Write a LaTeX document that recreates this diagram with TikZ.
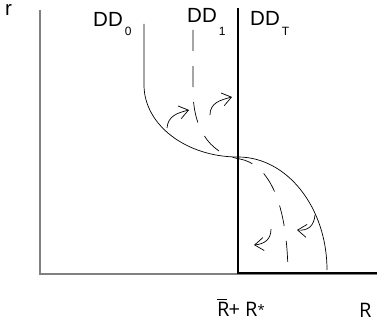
\documentclass[tikz,border=0pt]{standalone}
\usepackage{fontspec}
\setmainfont{Liberation Sans}
\newfontfamily\axisfont{Open Sans}
\usetikzlibrary{arrows.meta}

\begin{document}
\begin{tikzpicture}[x=1pt, y=-1pt, font=\fontsize{20.5}{22}\selectfont,
  axis/.style={draw=black!50, line width=1.4pt},
  curve/.style={line width=0.7pt},
  dcurve/.style={line width=0.7pt, dash pattern=on 21pt off 15pt},
  movearrow/.style={line width=0.7pt, -{Straight Barb[length=9pt,width=13pt]}},
  lab/.style={anchor=base west, inner sep=0pt}]
  \def\sublab#1#2{\kern2pt\raisebox{#1}{\fontsize{12}{12}\selectfont #2}}
  \useasboundingbox (0,0) rectangle (377,321);
  % axes
  \draw[axis] (40,10) -- (40,274) -- (377,274);
  \node[lab] (r) at (5,16) {r};
  % DD_T, vertical then along the axis
  \draw[line width=2pt] (238,8) -- (238,273) -- (377,273);
  % DD_0
  \draw[curve] (144,24) -- (144,85) arc[start angle=180, end angle=270, x radius=94, y radius=-72]
    arc[start angle=90, end angle=0, x radius=89, y radius=-113];
  % DD_1
  \draw[dcurve] (193,30) -- (193,90) .. controls (193,135) and (215,155) .. (240,159)
    .. controls (266,164) and (287,196) .. (288,273);
  % shifts of the curve
  \draw[movearrow] (167,128) .. controls (168,116) and (177,113) .. (189,110);
  \draw[movearrow] (210,115) .. controls (210,103) and (220,100) .. (232,97);
  \draw[movearrow] (315,215) .. controls (314,226) and (308,231) .. (297,230);
  \draw[movearrow] (271,229) .. controls (271,240) and (264,244) .. (254,245);
  % labels
  \node[lab] (dd0) at (93,27) {DD\sublab{-9pt}{0}};
  \node[lab] (dd1) at (187,23) {DD\sublab{-13pt}{1}};
  \node[lab] (ddT) at (250,26) {DD\sublab{-10pt}{T}};
  \node[lab, font=\axisfont\fontsize{20}{24}\selectfont] (rbar) at (217,316)
    {\rlap{\raisebox{16pt}{\rule{10pt}{0.8pt}}}R\kern-1pt+ R\raisebox{2pt}{\fontsize{13}{13}\selectfont*}};
  \node[lab, font=\axisfont\fontsize{20}{24}\selectfont] (rr) at (359,317) {R};
\end{tikzpicture}
\end{document}
